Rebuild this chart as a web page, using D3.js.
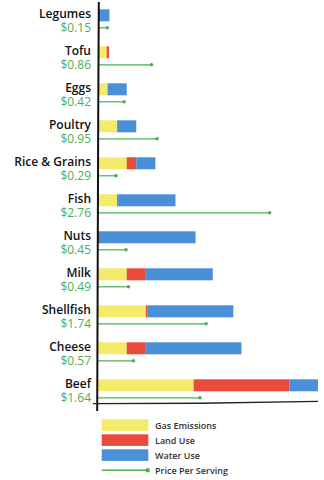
<!DOCTYPE html>
<html><head><meta charset="utf-8">
<script src="https://cdn.jsdelivr.net/npm/d3@7"></script>
<style>html,body{margin:0;padding:0;background:#fff;}svg{display:block;}</style>
</head><body><div id="chart"></div>
<script>
const categories = ["Legumes","Tofu","Eggs","Poultry","Rice & Grains","Fish","Nuts","Milk","Shellfish","Cheese","Beef"];
const gasEmissions = [0, 0.9, 1, 2, 3, 2, 0, 3, 5, 3, 10];
const landUse      = [0, 0.25, 0, 0, 1, 0.1, 0.2, 2, 0.15, 2, 10];
const waterUse     = [1.2, 0, 2, 2, 2, 6, 10, 7, 9, 10, 3];
const prices       = [0.15, 0.86, 0.42, 0.95, 0.29, 2.76, 0.45, 0.49, 1.74, 0.57, 1.64];
const seriesNames  = ["Gas Emissions","Land Use","Water Use"];
const legendPrice  = "Price Per Serving";

const W = 324, H = 480;
const colors = {"Gas Emissions":"#f4ea6c","Land Use":"#e84b3c","Water Use":"#4a90d8"};
const green = "#4caf50";

const svg = d3.select("#chart").append("svg").attr("width", W).attr("height", H);

const x = d3.scaleLinear().domain([0, 23]).range([98, 318]);
const xp = d3.scaleLinear().domain([0, 2.8]).range([98, 272]);
const y = d3.scaleBand().domain(categories).range([9.3, 9.3 + 37 * categories.length]).paddingInner(0);

const rows = categories.map((c, i) => ({cat: c, "Gas Emissions": gasEmissions[i], "Land Use": landUse[i], "Water Use": waterUse[i], price: prices[i]}));
const stacked = d3.stack().keys(seriesNames)(rows);

svg.append("g").selectAll("g").data(stacked).join("g")
  .attr("fill", d => colors[d.key])
  .selectAll("rect").data(d => d).join("rect")
  .attr("x", d => x(d[0]))
  .attr("width", d => Math.max(0, x(d[1]) - x(d[0])))
  .attr("y", d => y(d.data.cat))
  .attr("height", 12);

// price lines
const pg = svg.append("g");
pg.selectAll("line").data(rows).join("line")
  .attr("x1", xp(0)).attr("x2", d => xp(d.price))
  .attr("y1", d => y(d.cat) + 18.5).attr("y2", d => y(d.cat) + 18.5)
  .attr("stroke", green).attr("stroke-width", 1.2);
pg.selectAll("circle").data(rows).join("circle")
  .attr("cx", d => xp(d.price)).attr("cy", d => y(d.cat) + 18.5)
  .attr("r", 1.8).attr("fill", green);

// labels
const lg = svg.append("g").attr("font-family", "'Open Sans', sans-serif").attr("text-anchor", "end");
lg.selectAll("text.name").data(rows).join("text").attr("class", "name")
  .attr("x", 91).attr("y", d => y(d.cat) + 8.9)
  .attr("font-size", 12).attr("font-weight", 600).attr("fill", "#111")
  .text(d => d.cat);
lg.selectAll("text.price").data(rows).join("text").attr("class", "price")
  .attr("x", 91).attr("y", d => y(d.cat) + 22.5)
  .attr("font-size", 12).attr("font-weight", 500).attr("fill", green)
  .text(d => "$" + d.price.toFixed(2));

// hand-drawn axes
svg.append("path").attr("d", "M98.8,2 L98.2,120 L97.6,300 L97.2,411")
  .attr("fill", "none").attr("stroke", "#111").attr("stroke-width", 2);
svg.append("path").attr("d", "M93,403.6 L200,403.2 L318,401.4")
  .attr("fill", "none").attr("stroke", "#222").attr("stroke-width", 1.4);

// legend
const leg = svg.append("g").attr("font-family", "'Open Sans', sans-serif");
const ly = d3.scaleBand().domain([...seriesNames, legendPrice]).range([419.3, 479.3]);
seriesNames.forEach(s => {
  leg.append("rect").attr("x", 101.7).attr("y", ly(s)).attr("width", 46.6).attr("height", 11.6).attr("fill", colors[s]);
});
leg.append("line").attr("x1", 101.7).attr("x2", 147.7).attr("y1", ly(legendPrice) + 6).attr("y2", ly(legendPrice) + 6)
  .attr("stroke", green).attr("stroke-width", 1.5);
leg.append("circle").attr("cx", 147.7).attr("cy", ly(legendPrice) + 6).attr("r", 2.2).attr("fill", green);
leg.selectAll("text").data(ly.domain()).join("text")
  .attr("x", 155).attr("y", d => ly(d) + 9.2)
  .attr("font-size", 9).attr("font-weight", 600).attr("fill", "#333")
  .text(d => d);
</script></body></html>
